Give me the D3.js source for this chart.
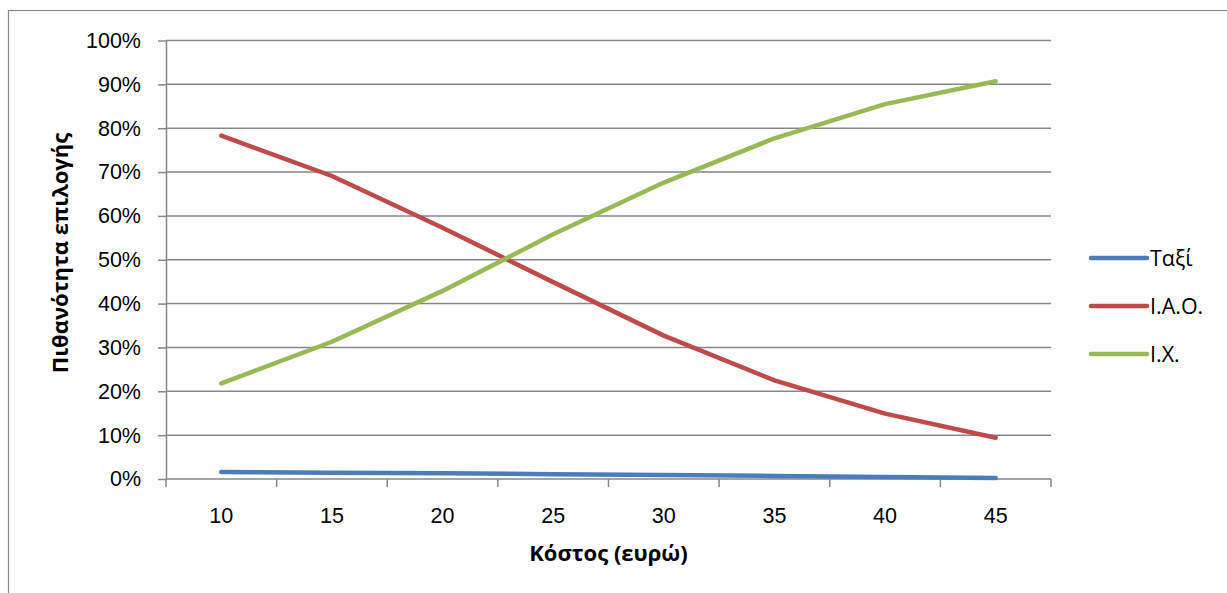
<!DOCTYPE html>
<html>
<head>
<meta charset="utf-8">
<script src="https://cdn.jsdelivr.net/npm/d3@7"></script>
<style>
  html, body { margin: 0; padding: 0; background: #fff; }
  svg { display: block; font-family: "Open Sans", "Liberation Sans", sans-serif; }
</style>
</head>
<body>
<svg id="chart" width="1227" height="593"></svg>
<script>
// Cost categories (euro) and choice probabilities per mode (%)
const costs = ["10", "15", "20", "25", "30", "35", "40", "45"];
const taxi = [1.6, 1.45, 1.3, 1.1, 0.9, 0.7, 0.45, 0.2];
const publicTransport = [78.3, 69.1, 57.3, 44.9, 32.7, 22.5, 14.9, 9.4];
const privateCar = [21.8, 31.3, 42.9, 55.8, 67.6, 77.7, 85.5, 90.7];
const seriesNames = ["Ταξί", "Ι.Α.Ο.", "Ι.Χ."];
const seriesColors = ["#4a7ebb", "#be4b48", "#98b954"];
const yTicks = [0, 10, 20, 30, 40, 50, 60, 70, 80, 90, 100];
const xTitle = "Κόστος (ευρώ)";
const yTitle = "Πιθανότητα επιλογής";

const series = [taxi, publicTransport, privateCar].map((vals, i) => ({
  name: seriesNames[i], color: seriesColors[i], values: vals
}));

const svg = d3.select("#chart");
const gridColor = "#878787";
const labelSize = 21.5;
const titleSize = 22;
const plot = { left: 166, right: 1051, top: 40.5, bottom: 479 };

// outer chart frame
svg.append("rect")
  .attr("x", 8.5).attr("y", 10.5)
  .attr("width", 1240).attr("height", 600)
  .attr("fill", "none").attr("stroke", "#8a8a8a").attr("stroke-width", 1.2);

const x = d3.scaleBand().domain(costs).range([plot.left, plot.right]).padding(0);
const y = d3.scaleLinear().domain([0, 100]).range([plot.bottom, plot.top]);

// left tick marks and percentage labels
const yAxis = svg.append("g").attr("transform", `translate(${plot.left},0)`)
  .call(d3.axisLeft(y).tickValues(yTicks).tickSizeInner(8).tickSizeOuter(0)
    .tickPadding(17).tickFormat(d => d + "%"));
yAxis.select(".domain").attr("stroke", gridColor).attr("stroke-width", 1.5);
yAxis.selectAll(".tick line").attr("stroke", gridColor).attr("stroke-width", 1.5);
yAxis.selectAll(".tick text").attr("font-size", labelSize).attr("fill", "#000");

// horizontal gridlines
svg.append("g").selectAll("line")
  .data(yTicks.filter(d => d > 0))
  .join("line")
  .attr("x1", plot.left).attr("x2", plot.right)
  .attr("y1", d => y(d)).attr("y2", d => y(d))
  .attr("stroke", gridColor).attr("stroke-width", 1.5);

// x axis: labels at category centres, ticks on category boundaries
const xAxis = svg.append("g").attr("transform", `translate(0,${plot.bottom})`)
  .call(d3.axisBottom(x).tickSize(0).tickPadding(29));
xAxis.select(".domain").remove();
xAxis.selectAll(".tick text").attr("font-size", labelSize).attr("fill", "#000");

svg.append("line")
  .attr("x1", plot.left).attr("x2", plot.right)
  .attr("y1", plot.bottom).attr("y2", plot.bottom)
  .attr("stroke", gridColor).attr("stroke-width", 1.5);

const boundaries = costs.map(c => x(c)).concat([x.range()[1]]);
svg.append("g").selectAll("line")
  .data(boundaries)
  .join("line")
  .attr("x1", d => d).attr("x2", d => d)
  .attr("y1", plot.bottom).attr("y2", plot.bottom + 8)
  .attr("stroke", gridColor).attr("stroke-width", 1.5);

// series lines
const line = d3.line()
  .x((d, i) => x(costs[i]) + x.bandwidth() / 2)
  .y(d => y(d));

svg.append("g").selectAll("path")
  .data(series)
  .join("path")
  .attr("d", d => line(d.values))
  .attr("fill", "none")
  .attr("stroke", d => d.color)
  .attr("stroke-width", 4.5)
  .attr("stroke-linecap", "round")
  .attr("stroke-linejoin", "round");

// axis titles
svg.append("text")
  .attr("x", (plot.left + plot.right) / 2).attr("y", 561)
  .attr("text-anchor", "middle")
  .attr("font-size", titleSize).attr("font-weight", "bold")
  .text(xTitle);

svg.append("text")
  .attr("transform", "translate(68,253) rotate(-90)")
  .attr("text-anchor", "middle")
  .attr("font-size", titleSize).attr("font-weight", "bold")
  .text(yTitle);

// legend
const legend = svg.append("g").selectAll("g")
  .data(series)
  .join("g")
  .attr("transform", (d, i) => `translate(1091,${258 + i * 48})`);
legend.append("line")
  .attr("x1", 0).attr("x2", 56)
  .attr("stroke", d => d.color).attr("stroke-width", 4.5)
  .attr("stroke-linecap", "round");
legend.append("text")
  .attr("x", 59).attr("dy", "0.35em")
  .attr("font-size", labelSize).attr("fill", "#000")
  .text(d => d.name);
</script>
</body>
</html>
